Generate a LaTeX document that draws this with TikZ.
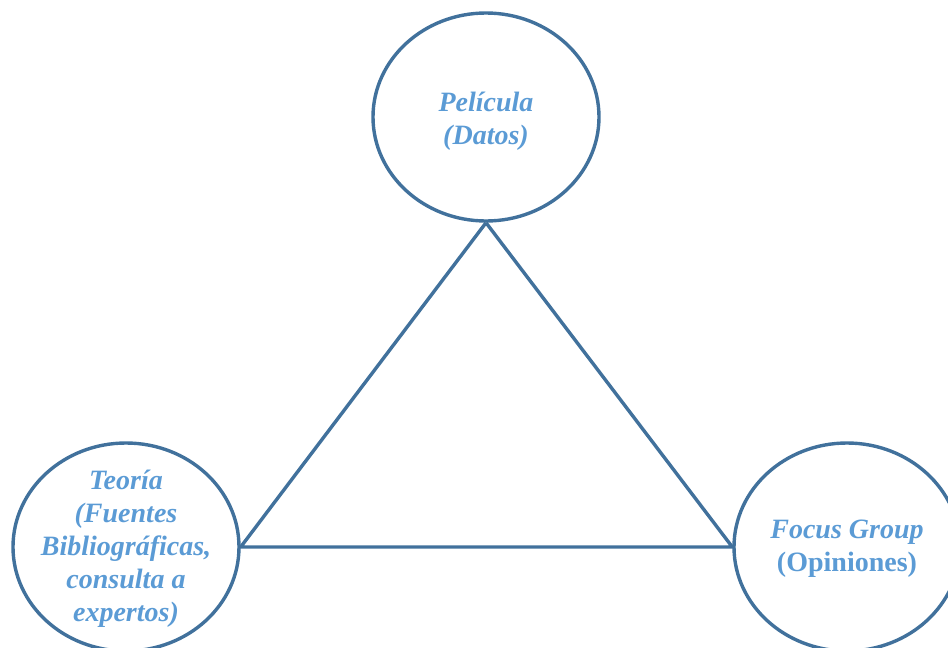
\documentclass[tikz,border=0pt]{standalone}
\usepackage{fontspec}
\setmainfont{Liberation Serif}
\usetikzlibrary{shapes.geometric}
\definecolor{edgeblue}{HTML}{41719C}
\definecolor{textblue}{HTML}{5B9BD5}
\begin{document}
\begin{tikzpicture}[x=1pt,y=-1pt,
  circ/.style={ellipse,draw=edgeblue,line width=3.4pt,minimum width=226pt,minimum height=208pt,inner sep=0pt},
  lbl/.style={text=textblue,align=center,inner sep=0pt,font=\fontsize{28}{33}\selectfont\bfseries\itshape},
  link/.style={draw=edgeblue,line width=3.4pt,line join=miter}]
\useasboundingbox (0,0) rectangle (948,648);
\begin{scope}
\clip (0,0) rectangle (948,648);
\node[circ] (top) at (486,117) {};
\node[circ] (left) at (126,547) {};
\node[circ] (right) at (847,547) {};
\node[lbl, yshift=-4pt] (toptext) at (top) {Película\\(Datos)};
\node[lbl, yshift=-2pt] (lefttext) at (left) {Teoría\\(Fuentes\\Bibliográficas,\\consulta a\\expertos)};
\node[lbl, yshift=-2pt] (righttext) at (right) {Focus Group\\{\upshape(Opiniones)}};
\draw[link] (top.south) -- (left.east) -- (right.west) -- (top.south);
\end{scope}
\end{tikzpicture}
\end{document}
